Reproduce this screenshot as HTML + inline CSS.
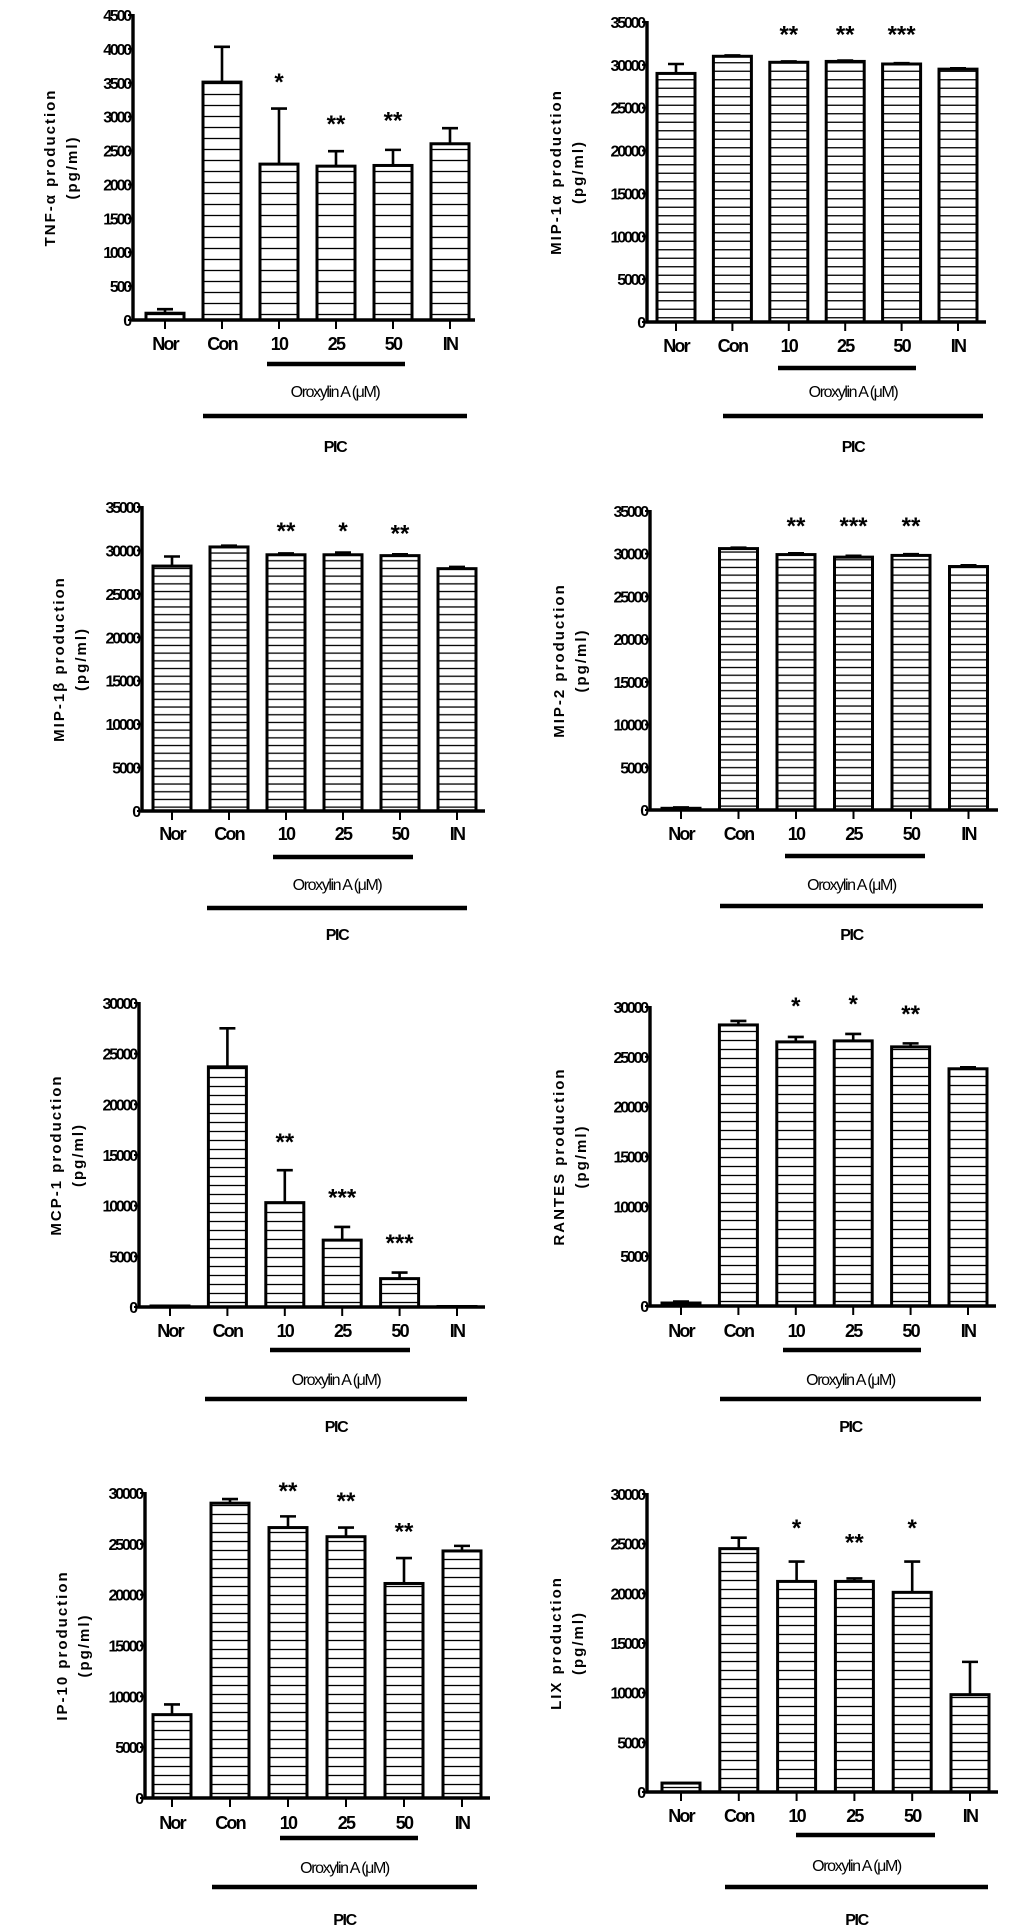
<!DOCTYPE html>
<html><head><meta charset="utf-8">
<style>
html,body{margin:0;padding:0;background:#fff;}
svg{display:block;}
text{font-family:"Liberation Sans",sans-serif;fill:#000;}
.tk{font-size:16px;font-weight:bold;letter-spacing:-2.2px;}
.xl{font-size:18px;font-weight:bold;letter-spacing:-1.8px;}
.yt{font-size:15px;font-weight:bold;letter-spacing:2px;}
.or{font-size:16px;letter-spacing:-1.4px;}
.pc{font-size:16px;font-weight:bold;letter-spacing:-1.4px;}
.st{font-size:24px;font-weight:bold;}
</style></head>
<body>
<svg id="fig" width="1033" height="1928" viewBox="0 0 1033 1928" xmlns="http://www.w3.org/2000/svg"></svg>
<script>
const categories = ["Nor","Con","10","25","50","IN"];
const titles = ["TNF-\u03b1  production","MIP-1\u03b1  production","MIP-1\u03b2  production","MIP-2  production","MCP-1  production","RANTES  production","IP-10  production","LIX  production"];
const tnfVals = [100,3510,2300,2270,2280,2600];
const tnfErr = [60,520,820,220,230,230];
const mip1aVals = [29000,31000,30300,30400,30100,29500];
const mip1aErr = [1100,100,100,100,100,100];
const mip1bVals = [28200,30400,29500,29500,29400,27900];
const mip1bErr = [1100,150,150,250,150,200];
const mip2Vals = [200,30600,29900,29600,29800,28500];
const mip2Err = [100,100,150,150,150,150];
const mcp1Vals = [100,23700,10300,6600,2800,50];
const mcp1Err = [0,3800,3200,1300,600,0];
const rantesVals = [300,28200,26500,26600,26000,23800];
const rantesErr = [150,400,500,700,350,150];
const ip10Vals = [8200,29000,26600,25700,21100,24300];
const ip10Err = [1000,400,1100,900,2500,500];
const lixVals = [900,24500,21200,21200,20100,9800];
const lixErr = [0,1100,2000,300,3100,3300];
const tnfStars = ["","","*","**","**",""];
const mip1aStars = ["","","**","**","***",""];
const mip1bStars = ["","","**","*","**",""];
const mip2Stars = ["","","**","***","**",""];
const mcp1Stars = ["","","**","***","***",""];
const rantesStars = ["","","*","*","**",""];
const ip10Stars = ["","","**","**","**",""];
const lixStars = ["","","*","**","*",""];
const tnfStarY = [0,0,3570,2950,3000,0];
const mip1aStarY = [0,0,34000,34000,34000,0];
const mip1bStarY = [0,0,32700,32700,32400,0];
const mip2StarY = [0,0,33700,33700,33700,0];
const mcp1StarY = [0,0,16700,11200,6700,0];
const rantesStarY = [0,0,30500,30700,29700,0];
const ip10StarY = [0,0,30600,29600,26600,0];
const lixStarY = [0,0,27000,25500,27000,0];
const ticks4500 = [0,500,1000,1500,2000,2500,3000,3500,4000,4500];
const ticks35000 = [0,5000,10000,15000,20000,25000,30000,35000];
const ticks30000 = [0,5000,10000,15000,20000,25000,30000];

const data = [
 [tnfVals,tnfErr,tnfStars,tnfStarY,ticks4500],
 [mip1aVals,mip1aErr,mip1aStars,mip1aStarY,ticks35000],
 [mip1bVals,mip1bErr,mip1bStars,mip1bStarY,ticks35000],
 [mip2Vals,mip2Err,mip2Stars,mip2StarY,ticks35000],
 [mcp1Vals,mcp1Err,mcp1Stars,mcp1StarY,ticks30000],
 [rantesVals,rantesErr,rantesStars,rantesStarY,ticks30000],
 [ip10Vals,ip10Err,ip10Stars,ip10StarY,ticks30000],
 [lixVals,lixErr,lixStars,lixStarY,ticks30000]
];
const layout = [
 {ax:133,z:320,t:15,end:475,lab:350,ul:[364,267,405],or:397,pl:[416,203,467],pic:452,first:32,step:57,h:11,col:0},
 {ax:647,z:322,t:22,end:986,lab:352,ul:[368,778,916],or:397,pl:[416,723,983],pic:452,first:29,step:56.4,h:8.5,col:1},
 {ax:142,z:811,t:507,end:485,lab:840,ul:[857,273,413],or:890,pl:[908,207,467],pic:940,first:30,step:57,h:7.7,col:0},
 {ax:650,z:810,t:511,end:998,lab:840,ul:[856,785,925],or:890,pl:[906,720,983],pic:940,first:31,step:57.5,h:7.7,col:1},
 {ax:139,z:1307,t:1003,end:485,lab:1337,ul:[1350,270,410],or:1385,pl:[1399,205,467],pic:1432,first:31,step:57.4,h:9,col:0},
 {ax:650,z:1306,t:1007,end:996,lab:1337,ul:[1350,783,921],or:1385,pl:[1399,720,981],pic:1432,first:31,step:57.4,h:9,col:1},
 {ax:145,z:1798,t:1493,end:490,lab:1829,ul:[1838,280,418],or:1873,pl:[1887,212,477],pic:1925,first:27,step:58,h:9,col:0},
 {ax:647,z:1792,t:1494,end:998,lab:1822,ul:[1835,796,935],or:1871,pl:[1887,725,988],pic:1925,first:34,step:57.8,h:9,col:1}
];
const NS="http://www.w3.org/2000/svg";
const svg=document.getElementById('fig');
function mk(tag,attrs,parent){const e=document.createElementNS(NS,tag);for(const k in attrs)e.setAttribute(k,attrs[k]);(parent||svg).appendChild(e);return e;}
const defs=mk('defs',{});
data.forEach((d,p)=>{
  const [vals,errs,stars,starY,ticks]=d;
  const L=layout[p];
  const max=ticks[ticks.length-1];
  const y=v=>L.z-(v/max)*(L.z-L.t);
  const x=i=>L.ax+L.first+i*L.step;
  const g=mk('g',{});
  
  
  const pat=mk('pattern',{id:'h'+p,patternUnits:'userSpaceOnUse',x:0,y:L.z,width:10,height:L.h},defs);
  mk('line',{x1:0,x2:10,y1:L.h/2,y2:L.h/2,stroke:'#000','stroke-width':1.3},pat);
  ticks.forEach(tv=>{
    const ty=y(tv);
    const tl=mk('line',{x1:L.ax-5,x2:L.ax,y1:ty,y2:ty,stroke:'#000','stroke-width':2},g);
    
    
    const tt=mk('text',{x:L.ax-3,y:ty+6,'text-anchor':'end',class:'tk'},g);
    tt.textContent=tv;
    
    
  });
  vals.forEach((v,i)=>{
    const cx=x(i), bw=38;
    const top=y(v);
    if(errs[i]>0){
      const ey=y(v+errs[i]);
      const el=mk('path',{d:`M${cx},${top}V${ey}M${cx-8},${ey}H${cx+8}`,stroke:'#000','stroke-width':2.6,fill:'none'},g);
      
      
    }
    const r=mk('rect',{x:cx-bw/2,y:top,width:bw,height:Math.max(L.z-top,0.5),fill:'url(#h'+p+')',stroke:'#000','stroke-width':3},g);
    
    
    if(stars[i]){
      const s=mk('text',{x:cx,y:y(starY[i])+12,'text-anchor':'middle',class:'st'},g);
      s.textContent=stars[i];
      
      
    }
    const xt=mk('line',{x1:cx,x2:cx,y1:L.z,y2:L.z+9,stroke:'#000','stroke-width':2},g);
    
    
    const xl=mk('text',{x:cx,y:L.lab,'text-anchor':'middle',class:'xl'},g);
    xl.textContent=categories[i];
    
    
  });
  const axes=mk('path',{d:`M${L.ax},${L.t-1}V${L.z}H${L.end}`,stroke:'#000','stroke-width':3.4,fill:'none'},g);
  
  
  const cy=(L.t+L.z)/2;
  const o1=L.col?-86:-78, o2=L.col?-64:-56;
  const t1=mk('text',{x:L.ax+o1,y:cy,'text-anchor':'middle',class:'yt',transform:`rotate(-90 ${L.ax+o1} ${cy})`},g);
  t1.textContent=titles[p];
  
  
  const t2=mk('text',{x:L.ax+o2,y:cy,'text-anchor':'middle',class:'yt',transform:`rotate(-90 ${L.ax+o2} ${cy})`},g);
  t2.textContent='(pg/ml)';
  
  
  const u=mk('line',{x1:L.ul[1],x2:L.ul[2],y1:L.ul[0],y2:L.ul[0],stroke:'#000','stroke-width':4.5},g);
  
  
  const ot=mk('text',{x:(L.pl[1]+L.pl[2])/2,y:L.or,'text-anchor':'middle',class:'or'},g);
  ot.textContent='Oroxylin A (\u03bcM)';
  
  
  const pl=mk('line',{x1:L.pl[1],x2:L.pl[2],y1:L.pl[0],y2:L.pl[0],stroke:'#000','stroke-width':4.5},g);
  
  
  const pt=mk('text',{x:(L.pl[1]+L.pl[2])/2,y:L.pic,'text-anchor':'middle',class:'pc'},g);
  pt.textContent='PIC';
  
  
});
</script>
</body></html>
